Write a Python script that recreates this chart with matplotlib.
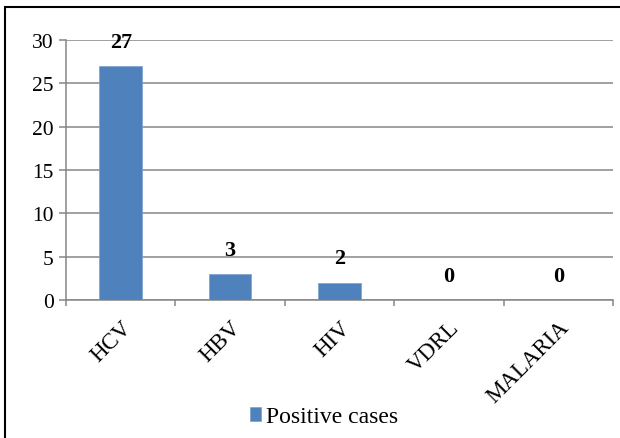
import matplotlib
matplotlib.use("Agg")
import matplotlib.pyplot as plt
from matplotlib.patches import Rectangle
from matplotlib.ticker import FixedLocator
import matplotlib.transforms as mtransforms
import numpy as np

categories = ["HCV", "HBV", "HIV", "VDRL", "MALARIA"]
values = [27, 3, 2, 0, 0]
series_name = "Positive cases"
yticks = [0, 5, 10, 15, 20, 25, 30]

plt.rcParams['font.family'] = ['Liberation Serif', 'DejaVu Serif']
FS = 15.5

W, H = 620, 439
fig = plt.figure(figsize=(W/100, H/100), dpi=100)
ax = fig.add_axes([66/W, 1-301/H, (613-66)/W, (301-41)/H])

bar_color = "#4F81BD"
grid_color = "#868686"
x = np.arange(len(categories))
bars = ax.bar(x, values, width=0.39, color=bar_color, edgecolor="#7BA0CD", linewidth=0.5,
              label=series_name, zorder=3)

for xi, v in zip(x, values):
    ax.annotate(str(v), (xi, v), xytext=(0, 17.5), textcoords="offset points",
                ha="center", va="center", fontsize=16, fontweight="bold", zorder=4,
                family="Liberation Serif")

ax.set_xlim(-0.5, len(categories) - 0.5)
ax.set_ylim(0, 30)
ax.set_yticks(yticks)
ax.set_yticklabels([str(t) for t in yticks], fontsize=FS, family="Liberation Serif")
ax.yaxis.grid(True, color=grid_color, linewidth=1.1, zorder=0)
ax.set_axisbelow(True)

ax.set_xticks(x)
ax.set_xticklabels(categories, fontsize=16.5, rotation=45, ha="right", va="top",
                   rotation_mode="anchor", family="Liberation Serif")
shift = mtransforms.ScaledTranslation(-4/100, 0, fig.dpi_scale_trans)
for lab in ax.get_xticklabels():
    lab.set_transform(lab.get_transform() + shift)
ax.xaxis.set_minor_locator(FixedLocator(np.arange(-0.5, len(categories), 1.0)))
ax.tick_params(axis="x", which="major", length=0, pad=12)
ax.tick_params(axis="x", which="minor", length=4, width=1.1, color=grid_color, direction="out")
ax.tick_params(axis="y", length=5, width=1.1, color=grid_color, direction="out", pad=4)

for s in ["top", "right"]:
    ax.spines[s].set_visible(False)
for s in ["left", "bottom"]:
    ax.spines[s].set_color(grid_color)
    ax.spines[s].set_linewidth(1.1)

leg = fig.legend(handles=[bars], labels=[series_name], loc="center",
                 bbox_to_anchor=(324/W, 1-418/H), frameon=False,
                 prop={"family": "Liberation Serif", "size": 17},
                 handlelength=0.5, handleheight=0.5, handletextpad=0.2,
                 borderpad=0, borderaxespad=0)

fig.patches.append(Rectangle((5/W, -0.1), 1.2, 1.1 - 8/H, transform=fig.transFigure,
                             fill=False, edgecolor="black", linewidth=1.5))

fig.savefig("out.png", dpi=100)
